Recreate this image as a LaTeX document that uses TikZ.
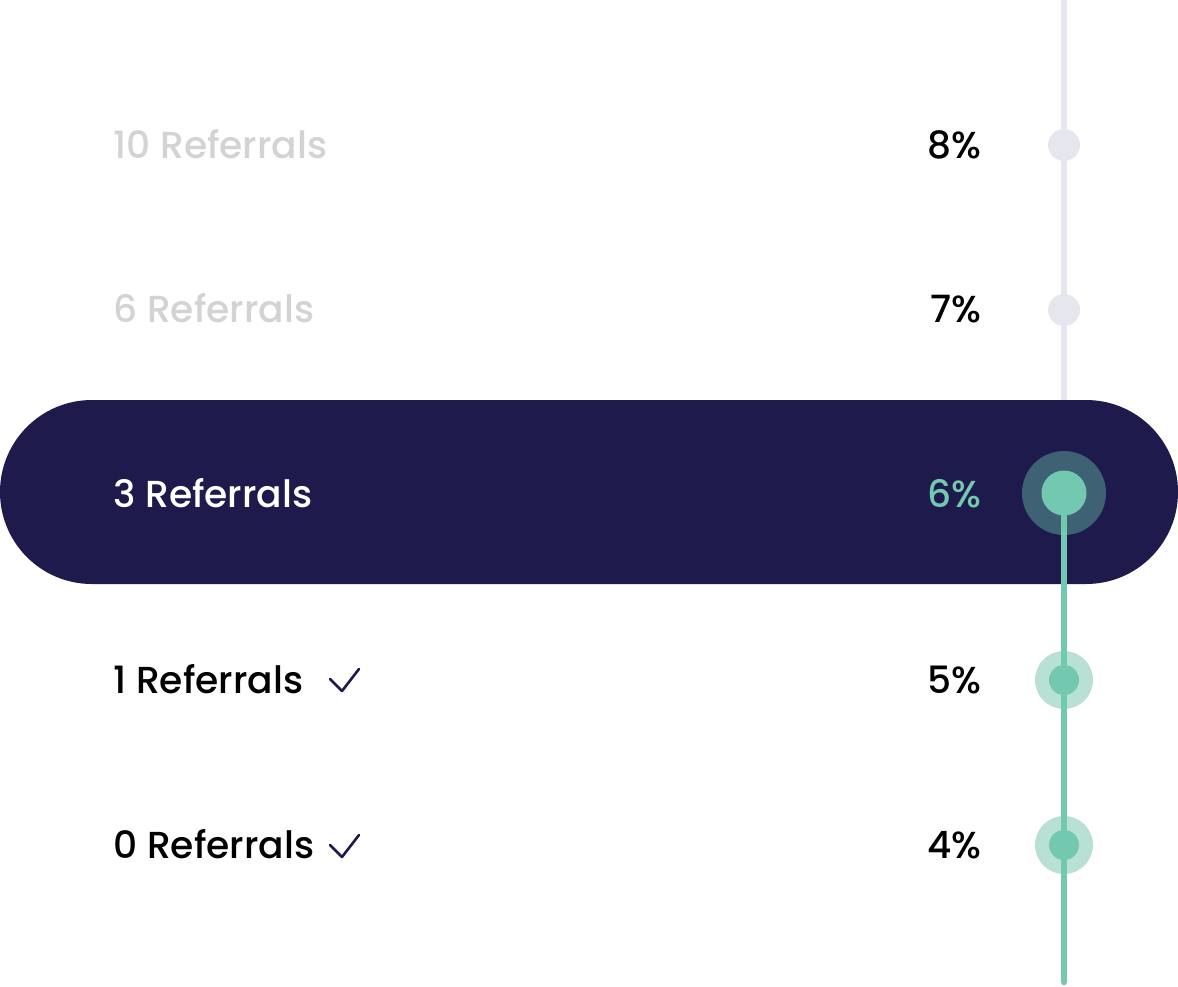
\documentclass[tikz,border=0pt]{standalone}
\usepackage{fontspec}
\setmainfont{Poppins Medium}
\begin{document}
\definecolor{navy}{HTML}{1E1A4B}
\definecolor{railgray}{HTML}{E6E6EF}
\definecolor{mint}{HTML}{72C9B0}
\definecolor{mintlight}{HTML}{B8E0D4}
\definecolor{ringdark}{HTML}{3E6274}
\definecolor{labelgray}{HTML}{D3D3D3}
\begin{tikzpicture}[x=1pt,y=-1pt,
  lbl/.style={anchor=base west,inner sep=0pt,font=\fontsize{37.6}{40}\selectfont},
  pct/.style={anchor=base east,inner sep=0pt,font=\fontsize{37.6}{40}\selectfont},
  graydot/.style={circle,fill=railgray,minimum size=32pt,inner sep=0pt},
  ringout/.style={circle,fill=mintlight,minimum size=58pt,inner sep=0pt},
  ringin/.style={circle,fill=mint,minimum size=30pt,inner sep=0pt},
  tick/.style={draw=navy,line width=2.6pt,line cap=round,line join=round}]
\useasboundingbox (0,0) rectangle (1178,986);
% gray rail
\coordinate (gtop) at (1064,0);
\coordinate (gbot) at (1064,420);
\draw[railgray,line width=6.5pt] (gtop) -- (gbot);
\node[graydot] (d8) at (1064,145) {};
\node[graydot] (d7) at (1064,310) {};
% pill
\fill[navy,rounded corners=91.9pt] (0,400) rectangle (1178,584);
% green rail
\coordinate (mbot) at (1064,982);
\node[circle,fill=ringdark,minimum size=84pt,inner sep=0pt] (d6o) at (1064,493) {};
\draw[mint,line width=6.5pt,line cap=round] (d6o.center) -- (mbot);
\node[circle,fill=mint,minimum size=45pt,inner sep=0pt] (d6) at (1064,493) {};
\node[ringout] (d5o) at (1064,680) {};
\node[ringout] (d4o) at (1064,845) {};
\draw[mint,line width=6.5pt] (d5o.north) -- (d4o.south);
\node[ringin] (d5) at (1064,680) {};
\node[ringin] (d4) at (1064,845) {};
% labels
\node[lbl,text=labelgray] (l10) at (113,158) {10 Referrals};
\node[lbl,text=labelgray] (l6) at (113,322) {6 Referrals};
\node[lbl,text=white] (l3) at (113,507) {3 Referrals};
\node[lbl,text=black] (l1) at (113,693) {1 Referrals};
\node[lbl,text=black] (l0) at (113,858) {0 Referrals};
% percentages
\node[pct,text=black] (p8) at (982,158) {8\%};
\node[pct,text=black] (p7) at (982,322) {7\%};
\node[pct,text=mint] (p6) at (982,507) {6\%};
\node[pct,text=black] (p5) at (982,693) {5\%};
\node[pct,text=black] (p4) at (982,858) {4\%};
% checkmarks
\coordinate (c1a) at (330,679);
\coordinate (c1b) at (342,691);
\coordinate (c1c) at (359,669);
\draw[tick] (c1a) -- (c1b) -- (c1c);
\coordinate (c0a) at (330,845);
\coordinate (c0b) at (342,857);
\coordinate (c0c) at (359,835);
\draw[tick] (c0a) -- (c0b) -- (c0c);
\end{tikzpicture}
\end{document}
